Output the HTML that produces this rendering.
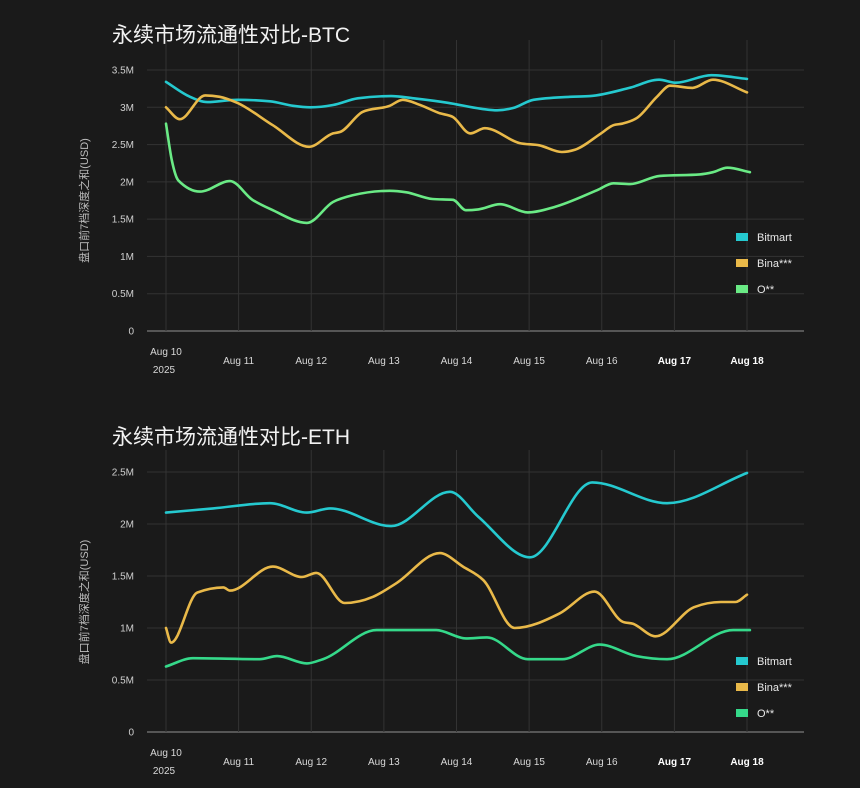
<!DOCTYPE html>
<html><head><meta charset="utf-8">
<style>
html,body{margin:0;padding:0;background:#1a1a1a;}
body{width:860px;height:783px;overflow:hidden;font-family:"Liberation Sans","Noto Sans CJK SC",sans-serif;}
svg text{font-family:"Liberation Sans","Noto Sans CJK SC",sans-serif;}
</style></head>
<body>
<svg id="root" width="860" height="783" viewBox="0 0 860 783" xmlns="http://www.w3.org/2000/svg">
<rect width="860" height="783" fill="#1a1a1a"/>
</svg>
<script>
const dayLabels = ["Aug 10","Aug 11","Aug 12","Aug 13","Aug 14","Aug 15","Aug 16","Aug 17","Aug 18"];
const seriesNames = ["Bitmart","Bina***","O**"];
// BTC (day offset, value in M)
const btcBitmartX = [0,0.33,0.57,0.98,1.43,1.75,1.99,2.30,2.64,3.10,3.41,3.88,4.34,4.56,4.78,5.06,5.56,5.84,6.38,6.79,7.02,7.51,8.0];
const btcBitmartY = [3.34,3.14,3.07,3.10,3.08,3.02,3.00,3.03,3.12,3.15,3.12,3.06,2.98,2.96,2.99,3.10,3.14,3.15,3.26,3.37,3.33,3.43,3.38];
const btcBinaX = [0,0.19,0.54,0.74,0.98,1.47,1.97,2.30,2.40,2.71,3.08,3.26,3.50,3.77,3.95,4.19,4.39,4.87,5.14,5.45,5.63,5.99,6.16,6.28,6.49,6.76,6.94,7.25,7.53,8.0];
const btcBinaY = [3.0,2.84,3.16,3.14,3.06,2.76,2.47,2.65,2.67,2.94,3.02,3.10,3.03,2.92,2.87,2.65,2.72,2.52,2.49,2.40,2.43,2.65,2.76,2.78,2.86,3.14,3.29,3.26,3.37,3.20];
const btcOX = [0,0.08,0.17,0.47,0.88,1.19,1.47,1.94,2.30,2.57,3.08,3.31,3.67,3.95,4.13,4.30,4.60,4.98,5.34,5.94,6.16,6.39,6.80,7.35,7.53,7.73,8.04];
const btcOY = [2.78,2.29,2.02,1.87,2.01,1.76,1.62,1.45,1.73,1.82,1.88,1.86,1.77,1.76,1.62,1.63,1.70,1.59,1.66,1.89,1.98,1.97,2.08,2.10,2.13,2.19,2.13];
// ETH
const ethBitmartX = [0,0.65,1.43,1.94,2.26,3.10,3.91,4.30,5.01,5.87,6.90,8.0];
const ethBitmartY = [2.11,2.15,2.20,2.11,2.15,1.98,2.31,2.07,1.68,2.40,2.20,2.49];
const ethBinaX = [0,0.07,0.43,0.79,0.88,1.47,1.87,2.07,2.46,2.85,3.17,3.77,4.09,4.37,4.80,5.42,5.90,6.29,6.43,6.74,7.27,7.64,7.84,8.0];
const ethBinaY = [1.0,0.86,1.34,1.39,1.36,1.59,1.49,1.53,1.24,1.30,1.43,1.72,1.59,1.46,1.00,1.14,1.35,1.06,1.04,0.92,1.20,1.25,1.25,1.32];
const ethOX = [0,0.37,1.29,1.53,1.94,2.16,2.90,3.72,4.13,4.42,4.98,5.46,5.97,6.48,6.90,7.81,8.04];
const ethOY = [0.63,0.71,0.70,0.73,0.66,0.70,0.98,0.98,0.90,0.91,0.70,0.70,0.84,0.73,0.70,0.98,0.98];
const btcTicks = [0,0.5,1,1.5,2,2.5,3,3.5];
const btcTickLabels = ["0","0.5M","1M","1.5M","2M","2.5M","3M","3.5M"];
const ethTicks = [0,0.5,1,1.5,2,2.5];
const ethTickLabels = ["0","0.5M","1M","1.5M","2M","2.5M"];

const NS="http://www.w3.org/2000/svg";
const root=document.getElementById('root');
function mk(tag,attrs,parent){const e=document.createElementNS(NS,tag);for(const k in attrs)e.setAttribute(k,attrs[k]);(parent||root).appendChild(e);return e;}
function smooth(pts){
 const n=pts.length;const h=[],s=[];
 for(let i=0;i<n-1;i++){h[i]=pts[i+1][0]-pts[i][0];s[i]=(pts[i+1][1]-pts[i][1])/h[i];}
 const m=[];
 m[0]=s[0];m[n-1]=s[n-2];
 for(let i=1;i<n-1;i++){
  if(s[i-1]*s[i]<=0)m[i]=0;
  else{const p=(s[i-1]*h[i]+s[i]*h[i-1])/(h[i-1]+h[i]);
   m[i]=(Math.sign(s[i-1])+Math.sign(s[i]))*Math.min(Math.abs(s[i-1]),Math.abs(s[i]),0.5*Math.abs(p));}
 }
 let d="M"+pts[0][0].toFixed(1)+","+pts[0][1].toFixed(1);
 for(let i=0;i<n-1;i++){const dx=h[i]/3;
  d+=" C"+(pts[i][0]+dx).toFixed(1)+","+(pts[i][1]+m[i]*dx).toFixed(1)+" "+(pts[i+1][0]-dx).toFixed(1)+","+(pts[i+1][1]-m[i+1]*dx).toFixed(1)+" "+pts[i+1][0].toFixed(1)+","+pts[i+1][1].toFixed(1);}
 return d;}

function drawChart(cfg){
 const g=mk('g',{});
 
 
 const x0=166,x1=747,yBase=cfg.yBase,yTop=cfg.yTop,vmax=cfg.vmax;
 const sx=d=>x0+(x1-x0)*d/8;
 const sy=v=>yBase-(yBase-yTop)*v/vmax;
 const t=mk('text',{x:112,y:cfg.titleY,fill:'#f2f2f2','font-size':21},g);
 t.textContent=cfg.title;
 
 
 cfg.ticks.forEach((v,i)=>{
  const y=sy(v);
  const l=mk('line',{x1:147,x2:804,y1:y,y2:y,stroke:i===0?'#6a6a6a':'#333','stroke-width':i===0?1.5:1},g);
  
  
  const tx=mk('text',{x:134,y:y+3.5,fill:'#cfcfcf','font-size':10,'text-anchor':'end'},g);
  tx.textContent=cfg.tickLabels[i];
  
  
 });
 dayLabels.forEach((lab,i)=>{
  const x=sx(i);
  const l=mk('line',{x1:x,x2:x,y1:cfg.gridTop,y2:yBase,stroke:'#333','stroke-width':1},g);
  
  
  const bold=i>=7;
  const tx=mk('text',{x:x,y:i===0?yBase+24:yBase+33,fill:bold?'#ffffff':'#d8d8d8','font-size':10,'font-weight':bold?'bold':'normal','text-anchor':'middle'},g);
  tx.textContent=lab;
  
  
  if(i===0){const y2=mk('text',{x:x-2,y:yBase+42,fill:'#d8d8d8','font-size':10,'text-anchor':'middle'},g);
   y2.textContent='2025';
   
   }
 });
 const cy=(yBase+yTop)/2;
 const at=mk('text',{x:88,y:cy,fill:'#bdbdbd','font-size':11,'text-anchor':'middle',transform:'rotate(-90 88 '+cy+')'},g);
 at.textContent='盘口前7档深度之和(USD)';
 
 
 cfg.series.forEach((s,k)=>{
  const pts=s.x.map((d,i)=>[sx(d),sy(s.y[i])]);
  const p=mk('path',{d:smooth(pts),fill:'none',stroke:cfg.colors[k],'stroke-width':2.6,'stroke-linejoin':'round','stroke-linecap':'round'},g);
  
  
  const ly=cfg.legendY+k*26;
  const r=mk('rect',{x:736,y:ly-4,width:12,height:8,fill:cfg.colors[k]},g);
  
  
  const lt=mk('text',{x:757,y:ly+4,fill:'#e8e8e8','font-size':11},g);
  lt.textContent=seriesNames[k];
  
  
 });
}
drawChart({name:'btc-chart',title:'永续市场流通性对比-BTC',titleY:42,yBase:331,yTop:70,vmax:3.5,gridTop:40,
 ticks:btcTicks,tickLabels:btcTickLabels,legendY:237,colors:['#25c9cf','#e9b949','#6aea85'],
 series:[{x:btcBitmartX,y:btcBitmartY},{x:btcBinaX,y:btcBinaY},{x:btcOX,y:btcOY}]});
drawChart({name:'eth-chart',title:'永续市场流通性对比-ETH',titleY:444,yBase:732,yTop:472,vmax:2.5,gridTop:450,
 ticks:ethTicks,tickLabels:ethTickLabels,legendY:661,colors:['#25c9cf','#e9b949','#35d98a'],
 series:[{x:ethBitmartX,y:ethBitmartY},{x:ethBinaX,y:ethBinaY},{x:ethOX,y:ethOY}]});
</script>
</body></html>
